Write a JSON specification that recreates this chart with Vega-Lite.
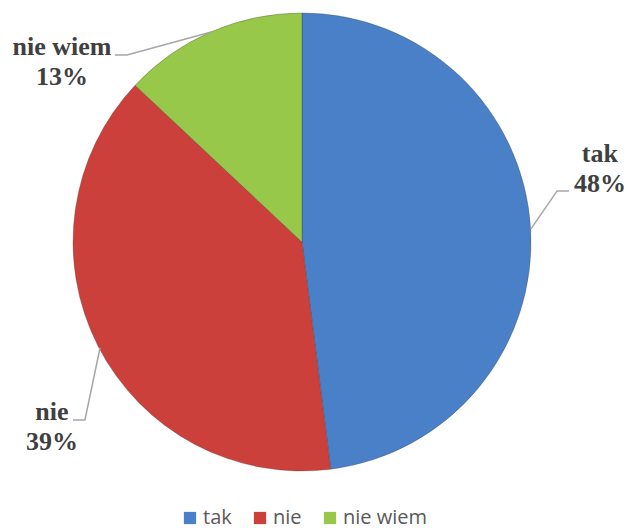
{
  "$schema": "https://vega.github.io/schema/vega-lite/v6.json",
  "width": 604,
  "height": 484,
  "autosize": "none",
  "padding": {"left": 0, "top": 0, "right": 24, "bottom": 47},
  "background": "white",
  "config": {"view": {"stroke": null}},
  "layer": [
    {
      "data": {"values": [
        {"answer": "tak", "share": 48, "rank": 1},
        {"answer": "nie", "share": 39, "rank": 2},
        {"answer": "nie wiem", "share": 13, "rank": 3}
      ]},
      "mark": {"type": "arc", "radius": 229, "stroke": "#3a3a3a", "strokeWidth": 0.6, "strokeOpacity": 0.5},
      "encoding": {
        "theta": {"field": "share", "type": "quantitative", "stack": true},
        "order": {"field": "rank", "type": "quantitative"},
        "color": {
          "field": "answer",
          "type": "nominal",
          "sort": ["tak", "nie", "nie wiem"],
          "scale": {"domain": ["tak", "nie", "nie wiem"], "range": ["#4a80c8", "#cc403c", "#98c84a"]},
          "legend": {
            "title": null,
            "orient": "none",
            "direction": "horizontal",
            "legendX": 180,
            "legendY": 508,
            "symbolType": "square",
            "symbolSize": 150,
            "symbolStrokeWidth": 0,
            "labelFont": "Open Sans",
            "labelFontSize": 20,
            "labelColor": "#595959",
            "labelOffset": 3,
            "columnPadding": 18
          }
        }
      }
    },
    {
      "data": {"values": [
        {"label": "tak", "pt": 1, "px": 1.0, "py": 0.057},
        {"label": "tak", "pt": 2, "px": 1.114, "py": 0.223},
        {"label": "tak", "pt": 3, "px": 1.166, "py": 0.223},
        {"label": "nie wiem", "pt": 1, "px": -0.397, "py": 0.917},
        {"label": "nie wiem", "pt": 2, "px": -0.764, "py": 0.817},
        {"label": "nie wiem", "pt": 3, "px": -0.817, "py": 0.817},
        {"label": "nie", "pt": 1, "px": -0.882, "py": -0.463},
        {"label": "nie", "pt": 2, "px": -0.948, "py": -0.777},
        {"label": "nie", "pt": 3, "px": -1.0, "py": -0.777}
      ]},
      "mark": {"type": "line", "color": "#a6a6a6", "strokeWidth": 1.5},
      "encoding": {
        "x": {"field": "px", "type": "quantitative", "scale": {"domain": [-1.3188, 1.3188]}, "axis": null},
        "y": {"field": "py", "type": "quantitative", "scale": {"domain": [-1.0568, 1.0568]}, "axis": null},
        "detail": {"field": "label"},
        "order": {"field": "pt", "type": "quantitative"}
      }
    },
    {
      "data": {"values": [
        {"text": "tak\n48%", "px": 1.301, "py": 0.349},
        {"text": "nie wiem\n13%", "px": -1.048, "py": 0.817},
        {"text": "nie\n39%", "px": -1.092, "py": -0.777}
      ]},
      "mark": {"type": "text", "font": "Liberation Serif", "fontWeight": "bold", "fontSize": 26, "color": "#404040", "align": "center", "baseline": "alphabetic", "lineBreak": "\n", "lineHeight": 30},
      "encoding": {
        "x": {"field": "px", "type": "quantitative", "scale": {"domain": [-1.3188, 1.3188]}, "axis": null},
        "y": {"field": "py", "type": "quantitative", "scale": {"domain": [-1.0568, 1.0568]}, "axis": null},
        "text": {"field": "text"}
      }
    }
  ]
}
